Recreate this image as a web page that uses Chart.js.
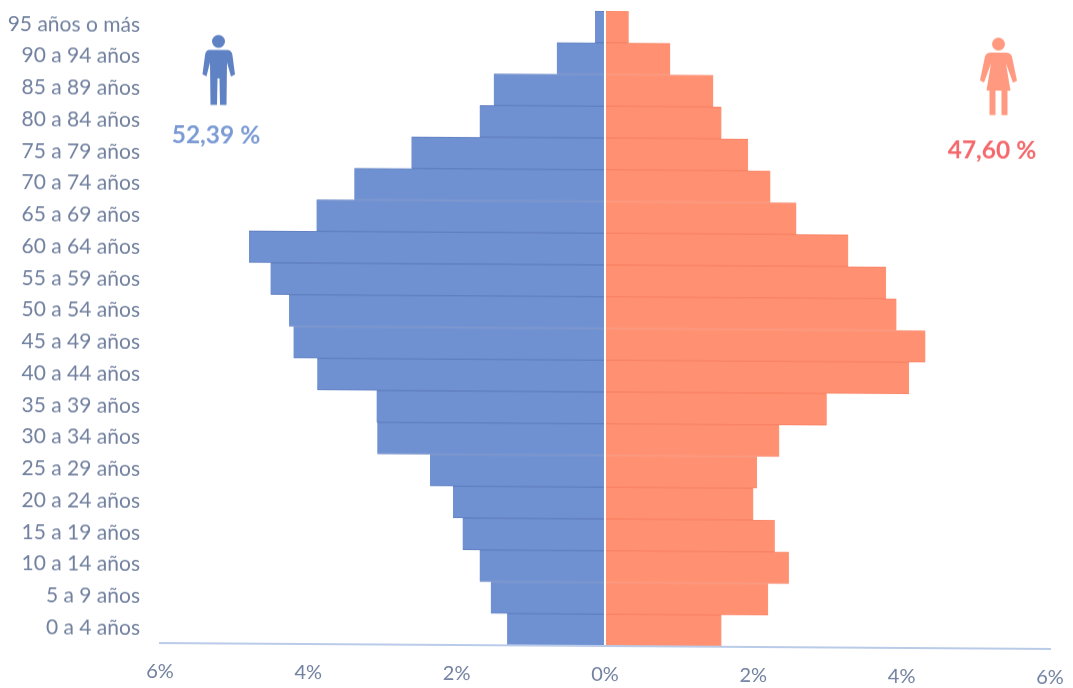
<!DOCTYPE html>
<html lang="es">
<head>
<meta charset="utf-8">
<title>Pirámide de población</title>
<script src="https://cdn.jsdelivr.net/npm/chart.js@4"></script>
<style>
  html, body { margin: 0; padding: 0; background: #fff; }
  #wrap { width: 1073px; height: 688px; transform: skewY(0.38deg); transform-origin: 605px 344px; }
</style>
</head>
<body>
<div id="wrap"><canvas id="c" width="1073" height="688"></canvas></div>
<script>
const ageGroups = ["95 años o más","90 a 94 años","85 a 89 años","80 a 84 años","75 a 79 años","70 a 74 años","65 a 69 años","60 a 64 años","55 a 59 años","50 a 54 años","45 a 49 años","40 a 44 años","35 a 39 años","30 a 34 años","25 a 29 años","20 a 24 años","15 a 19 años","10 a 14 años","5 a 9 años","0 a 4 años"];
const menPct = [0.135,0.65,1.5,1.69,2.61,3.38,3.89,4.80,4.51,4.26,4.20,3.88,3.08,3.07,2.36,2.05,1.92,1.69,1.54,1.32];
const womenPct = [0.32,0.88,1.46,1.57,1.93,2.23,2.58,3.28,3.79,3.93,4.32,4.10,2.99,2.35,2.05,2.00,2.29,2.48,2.20,1.57];
const menTotal = "52,39 %";
const womenTotal = "47,60 %";

const BLUE = "#7091d1";
const BLUE_EDGE = "#6180c2";
const RED = "#ff9172";
const RED_EDGE = "#f88366";
const TEXT = "#71809f";
const FONT = "Lato, 'Open Sans', sans-serif";

// Man and woman pictograms with the share of each sex beneath them.
const figures = {
  id: "figures",
  afterDraw(chart) {
    const ctx = chart.ctx;
    ctx.save();

    ctx.fillStyle = "#5f82c4";
    ctx.beginPath();
    ctx.arc(218.5, 44, 6.5, 0, Math.PI * 2);
    ctx.fill();
    ctx.beginPath();
    ctx.moveTo(209, 52.5);
    ctx.lineTo(228, 52.5);
    ctx.quadraticCurveTo(232, 53, 232.5, 58);
    ctx.lineTo(235, 77);
    ctx.lineTo(231, 79);
    ctx.lineTo(227, 65);
    ctx.lineTo(226.5, 107.5);
    ctx.lineTo(220, 107.5);
    ctx.lineTo(219.5, 81);
    ctx.lineTo(217.5, 81);
    ctx.lineTo(217, 107.5);
    ctx.lineTo(210.5, 107.5);
    ctx.lineTo(210, 65);
    ctx.lineTo(206.5, 79);
    ctx.lineTo(202.5, 77);
    ctx.lineTo(205, 58);
    ctx.quadraticCurveTo(205.5, 53, 209, 52.5);
    ctx.fill();

    ctx.fillStyle = "#ff9a80";
    ctx.beginPath();
    ctx.arc(998.5, 41.5, 6.5, 0, Math.PI * 2);
    ctx.fill();
    ctx.beginPath();
    ctx.moveTo(990, 50);
    ctx.lineTo(1007, 50);
    ctx.quadraticCurveTo(1011, 50.5, 1012, 54);
    ctx.lineTo(1017, 78);
    ctx.lineTo(1013, 80);
    ctx.lineTo(1006, 61);
    ctx.lineTo(1010.5, 88);
    ctx.lineTo(1007.5, 88);
    ctx.lineTo(1007.5, 112.5);
    ctx.lineTo(1001.5, 112.5);
    ctx.lineTo(1001.5, 88);
    ctx.lineTo(995.5, 88);
    ctx.lineTo(995.5, 112.5);
    ctx.lineTo(989.5, 112.5);
    ctx.lineTo(989.5, 88);
    ctx.lineTo(986.5, 88);
    ctx.lineTo(991, 61);
    ctx.lineTo(984, 80);
    ctx.lineTo(980, 78);
    ctx.lineTo(985, 54);
    ctx.quadraticCurveTo(986, 50.5, 990, 50);
    ctx.fill();

    ctx.font = "bold 24.5px " + FONT;
    ctx.textAlign = "center";
    ctx.textBaseline = "middle";
    ctx.fillStyle = "#7c9bd5";
    ctx.fillText(menTotal, 216, 138);
    ctx.fillStyle = "#f4686c";
    ctx.fillText(womenTotal, 992, 148.5);
    ctx.restore();
  }
};

new Chart(document.getElementById("c"), {
  type: "bar",
  data: {
    labels: ageGroups,
    datasets: [
      { label: "Hombres", data: menPct.map(v => -v), backgroundColor: BLUE, borderColor: BLUE_EDGE, borderWidth: { top: 1, bottom: 1 }, borderSkipped: false },
      { label: "Mujeres", data: womenPct, backgroundColor: RED, borderColor: RED_EDGE, borderWidth: { top: 1, bottom: 1 }, borderSkipped: false }
    ]
  },
  options: {
    indexAxis: "y",
    responsive: false,
    animation: false,
    barPercentage: 1,
    categoryPercentage: 1,
    layout: { padding: { top: 11, right: 23, left: 0, bottom: 0 } },
    plugins: { legend: { display: false }, tooltip: { enabled: false } },
    scales: {
      x: {
        stacked: true,
        min: -6,
        max: 6,
        afterFit(s) { s.height = 42; s.paddingLeft = 0; s.paddingRight = 0; },
        grid: {
          z: 1,
          drawTicks: false,
          lineWidth: 2,
          color: c => (c.tick && c.tick.value === 0 ? "#ffffff" : "rgba(0,0,0,0)")
        },
        border: { display: true, color: "#b9cbe8", width: 2, z: 1 },
        ticks: {
          stepSize: 2,
          padding: 17,
          maxRotation: 0,
          color: TEXT,
          font: { family: FONT, size: 20 },
          callback: v => Math.abs(v) + "%"
        }
      },
      y: {
        stacked: true,
        afterFit(s) { s.width = 160; s.paddingTop = 0; s.paddingBottom = 0; },
        grid: { display: false, drawTicks: false },
        border: { display: false },
        ticks: {
          padding: 20,
          labelOffset: 1,
          autoSkip: false,
          color: TEXT,
          font: { family: FONT, size: 21 }
        }
      }
    }
  },
  plugins: [figures]
});
</script>
</body>
</html>
